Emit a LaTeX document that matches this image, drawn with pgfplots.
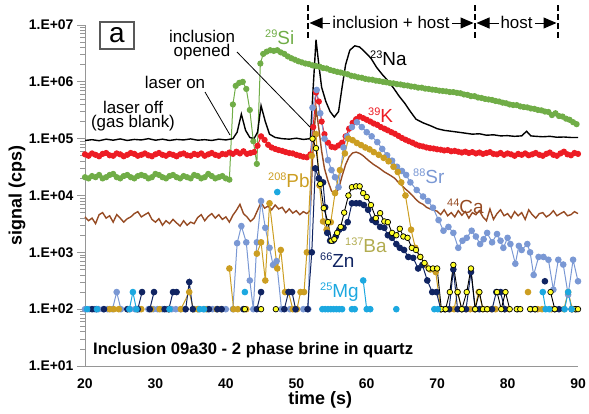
\documentclass[border=0pt]{standalone}
\usepackage{fontspec}
\setmainfont{Liberation Sans}
\usepackage{pgfplots}
\pgfplotsset{compat=1.18}
\usetikzlibrary{arrows.meta}

\definecolor{siGreen}{RGB}{112,173,71}
\definecolor{kRed}{RGB}{237,28,36}
\definecolor{srBlue}{RGB}{122,152,212}
\definecolor{caBrown}{RGB}{150,75,35}
\definecolor{pbGold}{RGB}{204,158,34}
\definecolor{znNavy}{RGB}{16,36,98}
\definecolor{baYellow}{RGB}{255,255,40}
\definecolor{baLabel}{RGB}{178,172,80}
\definecolor{mgCyan}{RGB}{28,168,224}
\definecolor{axisGray}{RGB}{150,150,150}

% isotope label: small mass number, larger element symbol
\newcommand{\iso}[2]{{\fontsize{11}{11}\selectfont\raisebox{6.5bp}{#1}}{\fontsize{19}{19}\selectfont #2}}
\newcommand{\ann}{\fontsize{17}{14}\selectfont}

\begin{document}
\begin{tikzpicture}
\begin{axis}[
  scale only axis, width=493bp, height=341bp,
  at={(0,0)}, anchor=south west,
  xmin=20, xmax=90, ymin=1e1, ymax=1e7, ymode=log,
  clip=false, unbounded coords=jump,
  axis x line*=bottom, axis y line*=left,
  axis line style={axisGray, line width=0.9bp, -},
  xtick={20,30,...,90}, xticklabels={20,30,40,50,60,70,80,90},
  xtick style={draw=none},
  ytick={1e1,1e2,1e3,1e4,1e5,1e6,1e7},
  yticklabels={1.E+01,1.E+02,1.E+03,1.E+04,1.E+05,1.E+06,1.E+07},
  minor ytick={2e1,3e1,4e1,5e1,6e1,7e1,8e1,9e1,2e2,3e2,4e2,5e2,6e2,7e2,8e2,9e2,
    2e3,3e3,4e3,5e3,6e3,7e3,8e3,9e3,2e4,3e4,4e4,5e4,6e4,7e4,8e4,9e4,
    2e5,3e5,4e5,5e5,6e5,7e5,8e5,9e5,2e6,3e6,4e6,5e6,6e6,7e6,8e6,9e6},
  tick align=outside, major tick length=8bp, minor tick length=5bp,
  ytick style={axisGray, line width=0.7bp},
  minor tick style={axisGray, line width=0.5bp},
  ticklabel style={font=\fontsize{14}{14}\selectfont\bfseries},
  xticklabel style={yshift=-1bp},
  xlabel={time (s)}, ylabel={signal (cps)},
  label style={font=\fontsize{18}{18}\selectfont\bfseries},
  xlabel style={at={(axis description cs:0.477,0)}, anchor=center, yshift=-34bp},
  ylabel style={at={(axis description cs:-0.138,0.5)}, anchor=center},
]

% 29Si
\addplot[siGreen, line width=1bp, mark=*, mark size=2.6pt] coordinates {
(20,2.1e4)(20.5,2.0e4)(21,2.2e4)(21.5,2.1e4)(22,2.3e4)(22.5,2.0e4)(23,2.1e4)(23.5,2.3e4)(24,2.4e4)(24.5,2.1e4)
(25,2.0e4)(25.5,2.2e4)(26,2.3e4)(26.5,2.1e4)(27,2.0e4)(27.5,2.2e4)(28,2.3e4)(28.5,2.2e4)(29,2.0e4)(29.5,2.1e4)
(30,2.4e4)(30.5,2.3e4)(31,2.1e4)(31.5,2.0e4)(32,2.2e4)(32.5,2.3e4)(33,2.1e4)(33.5,2.0e4)(34,2.2e4)(34.5,2.1e4)
(35,2.0e4)(35.5,2.3e4)(36,2.2e4)(36.5,2.0e4)(37,2.1e4)(37.5,2.4e4)(38,2.2e4)(38.5,2.0e4)(39,2.1e4)(39.5,2.2e4)
(40,2.0e4)(40.5,1.9e4)
(41,4.0e5)(41.4,8.5e5)(41.9,9.6e5)(42.4,1.0e6)(42.9,7.5e5)(43.4,3.2e5)(43.9,9.0e4)(44.4,3.6e4)
(44.9,2.1e6)(45.3,3.1e6)(45.8,3.4e6)(46.3,3.6e6)(46.8,3.5e6)(47.3,3.6e6)(47.8,3.3e6)(48.3,3.1e6)(48.8,2.8e6)
(49.3,2.6e6)(49.8,2.45e6)(50.3,2.3e6)(50.8,2.2e6)(51.3,2.1e6)(51.8,2.05e6)(52.3,1.95e6)(52.8,1.9e6)(53.3,1.85e6)
(53.8,1.75e6)(54.3,1.72e6)(54.8,1.62e6)(55.3,1.56e6)(55.8,1.5e6)(56.3,1.46e6)(56.8,1.4e6)(57.3,1.36e6)
(57.8,1.28e6)(58.3,1.25e6)(58.8,1.2e6)(59.3,1.18e6)(59.8,1.13e6)(60.3,1.1e6)(60.8,1.09e6)(61.3,1.05e6)
(61.8,1.03e6)(62.3,1.0e6)(62.8,9.8e5)(63.3,9.5e5)(63.8,9.4e5)(64.3,9.1e5)(64.8,9.0e5)(65.3,8.7e5)(65.8,8.6e5)
(66.3,8.3e5)(66.8,8.2e5)(67.3,7.9e5)(67.8,7.9e5)(68.3,7.6e5)(68.8,7.5e5)(69.3,7.3e5)(69.8,7.2e5)(70.3,7.0e5)
(70.8,6.9e5)(71.3,6.8e5)(71.8,6.6e5)(72.3,6.6e5)(72.8,6.4e5)(73.3,6.3e5)(73.8,6.0e5)(74.3,5.9e5)(74.8,5.6e5)
(75.3,5.6e5)(75.8,5.3e5)(76.3,5.2e5)(76.8,5.0e5)(77.3,4.9e5)(77.8,4.8e5)(78.3,4.6e5)(78.8,4.5e5)(79.3,4.3e5)
(79.8,4.2e5)(80.3,4.0e5)(80.8,3.9e5)(81.3,3.9e5)(81.8,3.7e5)(82.3,3.6e5)(82.8,3.55e5)(83.3,3.4e5)(83.8,3.35e5)
(84.3,3.2e5)(84.8,3.15e5)(85.3,3.0e5)(85.8,2.95e5)(86.3,2.6e5)(86.8,2.8e5)(87.3,2.5e5)(87.8,2.45e5)
(88.3,2.25e5)(88.8,2.15e5)(89.3,1.95e5)(89.8,1.8e5)};

% 39K
\addplot[kRed, line width=1bp, mark=*, mark size=2.6pt] coordinates {
(20,5.3e4)(20.5,5.0e4)(21,5.5e4)(21.5,5.2e4)(22,4.9e4)(22.5,5.4e4)(23,5.6e4)(23.5,5.1e4)(24,5.0e4)(24.5,5.5e4)
(25,5.3e4)(25.5,4.9e4)(26,5.2e4)(26.5,5.6e4)(27,5.4e4)(27.5,5.0e4)(28,5.2e4)(28.5,5.5e4)(29,5.1e4)(29.5,4.9e4)
(30,5.3e4)(30.5,5.6e4)(31,5.2e4)(31.5,5.0e4)(32,5.4e4)(32.5,5.2e4)(33,4.9e4)(33.5,5.3e4)(34,5.5e4)(34.5,5.1e4)
(35,5.0e4)(35.5,5.4e4)(36,5.2e4)(36.5,5.5e4)(37,5.0e4)(37.5,5.3e4)(38,5.6e4)(38.5,5.2e4)(39,5.0e4)(39.5,5.4e4)
(40,5.3e4)(40.5,5.7e4)(41,5.4e4)(41.5,5.9e4)(42,5.5e4)(42.5,6.0e4)(43,5.4e4)(43.5,5.6e4)(44,5.8e4)(44.5,7.5e4)
(45,1.1e5)(45.5,9.5e4)(46,7.8e4)(46.5,7.0e4)(47,6.6e4)(47.5,6.3e4)(48,6.1e4)(48.5,5.8e4)(49,5.6e4)(49.5,5.5e4)
(50,5.2e4)(50.5,5.0e4)(51,4.8e4)(51.5,4.7e4)(52,5.3e4)(52.4,1.6e5)(52.8,6.5e5)(53.2,4.5e5)(53.6,2.0e5)
(54,1.2e5)(54.5,8.5e4)(55,7.2e4)(55.5,7.0e4)(56,7.6e4)(56.5,8.5e4)(57,1.1e5)(57.5,1.5e5)(58,1.9e5)(58.5,2.2e5)
(59,2.45e5)(59.5,2.3e5)(60,2.15e5)(60.5,2.0e5)(61,1.85e5)(61.5,1.75e5)(62,1.6e5)(62.5,1.5e5)(63,1.4e5)
(63.5,1.3e5)(64,1.22e5)(64.5,1.12e5)(65,1.03e5)(65.5,9.6e4)(66,9.0e4)(66.5,8.5e4)(67,7.9e4)(67.5,7.5e4)
(68,7.3e4)(68.5,7.0e4)(69,6.8e4)(69.5,6.7e4)(70,6.5e4)(70.5,6.4e4)(71,6.2e4)(71.5,6.3e4)(72,6.0e4)(72.5,6.1e4)
(73,5.9e4)(73.5,5.7e4)(74,5.9e4)(74.5,5.6e4)(75,5.8e4)(75.5,5.5e4)(76,5.7e4)(76.5,5.4e4)(77,5.6e4)(77.5,5.8e4)
(78,5.4e4)(78.5,5.3e4)(79,5.6e4)(79.5,5.2e4)(80,5.5e4)(80.5,5.3e4)(81,5.0e4)(81.5,5.4e4)(82,5.2e4)(82.5,5.5e4)
(83,5.1e4)(83.5,5.3e4)(84,5.6e4)(84.5,5.2e4)(85,5.0e4)(85.5,5.4e4)(86,5.7e4)(86.5,5.2e4)(87,5.0e4)(87.5,5.5e4)
(88,5.9e4)(88.5,5.3e4)(89,5.1e4)(89.5,5.6e4)(90,5.4e4)};

% 23Na
\addplot[black, line width=1.4bp] coordinates {
(20,9.3e4)(21,9.6e4)(22,9.2e4)(23,9.8e4)(24,9.4e4)(25,9.9e4)(26,9.3e4)(27,9.7e4)(28,9.5e4)(29,1.0e5)
(30,9.4e4)(31,9.8e4)(32,9.3e4)(33,9.7e4)(34,9.5e4)(35,9.9e4)(36,9.4e4)(37,9.6e4)(38,9.3e4)(39,9.8e4)
(40,9.5e4)(41,1.0e5)(41.6,1.3e5)(42.2,2.7e5)(42.8,1.4e5)(43.4,1.05e5)(44,1.0e5)(44.5,1.3e5)(45,3.8e5)
(45.6,2.0e5)(46.2,1.2e5)(47,1.05e5)(48,1.0e5)(49,9.8e4)(50,1.02e5)(51,9.7e4)(52,1.0e5)(52.4,8e5)(52.8,5.5e6)
(53.2,2.0e6)(53.6,8e5)(54.2,4.5e5)(54.8,3.0e5)(55.4,2.4e5)(56,3.0e5)(56.5,8e5)(57,2.0e6)(57.6,3.6e6)
(58.3,4.3e6)(59,4.1e6)(59.8,3.3e6)(60.6,2.6e6)(61.4,1.8e6)(62.2,1.35e6)(63,1.05e6)(63.8,7.8e5)(64.6,5.6e5)
(65.4,4.2e5)(66.2,3.0e5)(67,2.2e5)(68,1.9e5)(69,1.7e5)(70,1.5e5)(71,1.4e5)(72,1.35e5)(73,1.3e5)(74,1.25e5)
(75,1.2e5)(76,1.22e5)(77,1.15e5)(78,1.17e5)(79,1.12e5)(80,1.13e5)(81,1.1e5)(82,1.12e5)(82.7,1.35e5)
(83.3,1.12e5)(84,1.1e5)(85,1.08e5)(86,1.1e5)(87,1.06e5)(88,1.07e5)(89,1.05e5)(90,1.05e5)};

% 44Ca
\addplot[caBrown, line width=1.4bp] coordinates {
(20,4.2e3)(20.5,3.6e3)(21,4.0e3)(21.5,3.2e3)(22,4.6e3)(22.5,5.0e3)(23,4.0e3)(23.5,4.4e3)(24,3.4e3)(24.5,4.6e3)
(25,4.0e3)(25.5,3.4e3)(26,3.9e3)(26.5,4.2e3)(27,4.8e3)(27.5,5.2e3)(28,4.2e3)(28.5,4.6e3)(29,5.0e3)(29.5,3.8e3)
(30,3.4e3)(30.5,3.9e3)(31,3.0e3)(31.5,3.6e3)(32,3.2e3)(32.5,3.8e3)(33,3.3e3)(33.5,2.9e3)(34,3.6e3)(34.5,3.0e3)
(35,3.4e3)(35.5,3.2e3)(36,4.1e3)(36.5,4.6e3)(37,3.6e3)(37.5,4.3e3)(38,4.8e3)(38.5,4.0e3)(39,4.6e3)(39.5,3.8e3)
(40,4.2e3)(40.5,3.4e3)(41,4.5e3)(41.5,5.5e3)(42,7.0e3)(42.5,4.8e3)(43,4.2e3)(43.5,3.5e3)(44,4.0e3)(44.5,5.5e3)
(45,7.5e3)(45.5,6.0e3)(46,6.5e3)(46.5,5.6e3)(47,6.8e3)(47.5,5.8e3)(48,6.2e3)(48.5,5.0e3)(49,5.8e3)(49.5,4.9e3)
(50,5.4e3)(50.5,4.6e3)(51,5.2e3)(51.5,4.8e3)(52,5.5e3)(52.4,8e4)(52.8,3.5e5)(53.2,1.5e5)(53.6,6e4)(54,3e4)
(54.5,1.8e4)(55,1.2e4)(55.5,1.05e4)(56,1.3e4)(56.5,2.2e4)(57,3.5e4)(57.5,4.8e4)(58,5.6e4)(58.5,5.8e4)(59,5.5e4)
(59.5,5.0e4)(60,4.4e4)(60.5,3.9e4)(61,3.5e4)(61.5,3.2e4)(62,2.9e4)(62.5,2.6e4)(63,2.4e4)(63.5,2.2e4)(64,2.0e4)
(64.5,1.7e4)(65,1.5e4)(65.5,1.3e4)(66,1.15e4)(66.5,1.0e4)(67,8.5e3)(67.5,7.5e3)(68,7.0e3)(68.5,6.2e3)
(69,5.8e3)(69.5,5.5e3)(70,5.3e3)(70.5,4.6e3)(71,5.6e3)(71.5,4.4e3)(72,5.0e3)(72.5,4.2e3)(73,5.4e3)(73.5,4.5e3)
(74,5.2e3)(74.5,4.0e3)(75,5.0e3)(75.5,4.6e3)(76,5.4e3)(76.5,4.2e3)(77,3.6e3)(77.5,5.8e3)(78,3.8e3)(78.5,4.8e3)
(79,5.6e3)(79.5,4.4e3)(80,4.8e3)(80.5,4.0e3)(81,5.2e3)(81.5,4.4e3)(82,5.0e3)(82.5,3.8e3)(83,5.6e3)(83.5,4.6e3)
(84,4.0e3)(84.5,4.8e3)(85,5.0e3)(85.5,4.2e3)(86,4.6e3)(86.5,5.4e3)(87,4.4e3)(87.5,4.8e3)(88,5.2e3)(88.5,4.4e3)
(89,4.6e3)(89.5,5.2e3)(90,4.8e3)};

% 88Sr
\addplot[srBlue, line width=1bp, mark=*, mark size=2.8pt] coordinates {
(20.0,100)(20.6,100)(21.3,100)(21.9,100)(22.6,100)(23.2,100)(23.9,100)(24.5,200)(25.1,100)(25.6,nan)
(26.4,100)(27.1,100)(27.7,100)(28.3,nan)(29.0,100)(29.7,100)(30.3,100)(31.0,100)(31.6,100)(32.3,100)
(32.9,100)(33.6,100)(34.2,100)(34.7,nan)(35.5,100)(36.1,100)(36.8,100)(37.4,100)(38.1,100)(38.7,100)
(39.4,100)(40.0,100)(40.5,nan)
(41.0,100)(41.6,1.45e3)(42.2,2.9e3)(42.9,1.5e3)(43.4,320)(43.9,100)(44.4,1.5e3)(45.0,8.0e3)(45.6,2.7e3)
(46.2,1.2e3)(46.7,600)(47.2,700)(47.9,100)(48.5,nan)(49.1,100)(49.8,100)(50.4,nan)(51.0,100)(51.7,100)
(52.3,3.5e5)(52.9,7.2e5)(53.4,2.8e5)(54.0,1.0e5)(54.5,4.2e4)(55.0,2.8e4)(55.5,2.1e4)(56.0,1.4e4)(56.7,7.0e4)
(57.2,1.1e5)(57.9,1.6e5)(58.6,1.95e5)(59.3,1.6e5)(60.0,1.3e5)(60.7,1.1e5)(61.5,8.7e4)(62.2,6.6e4)(62.9,5.1e4)
(63.6,4.1e4)(64.3,3.2e4)(65.0,2.7e4)(65.6,2.3e4)(66.2,1.7e4)(67.1,1.25e4)(68.0,9.6e3)(68.7,8.0e3)(69.4,6.1e3)
(70.2,3.7e3)(70.9,2.4e3)(71.6,2.8e3)(72.3,2.2e3)(73.0,1.2e3)(73.6,1.6e3)(74.2,1.8e3)(74.9,2.4e3)(75.5,1.9e3)
(76.1,1.4e3)(76.6,1.7e3)(77.1,2.2e3)(77.8,1.5e3)(78.5,2.1e3)(79.0,1.6e3)(79.4,1.2e3)(80.0,1.8e3)(80.4,1.4e3)
(81.1,630)(81.6,1.3e3)(82.0,1.1e3)(82.8,1.4e3)(83.2,1.0e3)(83.7,400)(84.4,830)(85.1,830)(85.8,740)(86.5,220)
(87.2,740)(87.9,610)(88.6,180)(89.3,740)(90.0,310)};

% 208Pb
\addplot[pbGold, line width=1bp, mark=*, mark size=2.8pt] coordinates {
(23.5,100)(24.1,100)(24.8,100)(25.4,nan)(26.1,100)(26.7,nan)(27.4,100)(28.0,100)(28.6,nan)(29.4,100)(30.0,nan)
(30.6,100)(31.2,nan)(31.9,100)(32.5,nan)(33.6,100)(34.8,200)(35.4,100)(36.0,100)(36.6,nan)(37.2,100)(37.8,nan)
(38.7,100)(39.3,100)(39.9,nan)(40.5,520)(41.1,100)(41.7,100)(42.3,nan)(42.9,100)(43.5,nan)(44.4,950)(45.0,1.5e3)
(45.6,320)(46.2,7.3e3)(47.3,520)(47.8,1.1e3)(48.4,200)(48.9,200)(49.5,100)(50.1,100)(50.6,200)(51.1,200)
(51.5,1.0e3)(52.2,5.0e4)(52.8,1.2e5)(53.3,1.5e4)(53.8,3.5e3)(54.3,2.5e3)(54.9,3.4e3)(55.5,1.1e4)(56.2,2.8e4)
(56.9,5.5e4)(57.4,1.0e5)(58.0,9.4e4)(58.6,8.4e4)(59.2,7.7e4)(59.8,7.0e4)(60.4,6.5e4)(61.0,5.8e4)(61.7,5.2e4)
(62.4,4.6e4)(63.1,4.0e4)(63.8,3.2e4)(64.4,2.6e4)(64.9,1.7e4)(65.5,1.0e4)(66.3,2.5e3)(66.9,1.2e3)(67.6,830)
(68.3,600)(69.0,500)(69.8,450)(70.5,100)(71.1,100)(71.8,100)(72.4,100)(72.9,200)(73.5,100)(74.1,100)(74.7,100)
(75.3,100)(75.9,200)(76.5,100)(77.1,100)(77.7,100)(78.3,100)(78.9,nan)(79.6,100)(80.2,100)(80.8,nan)
(82.9,200)(83.5,nan)(84.3,100)(84.9,100)(85.5,nan)(86.2,100)(86.8,nan)(88.0,100)(88.6,200)(89.2,100)(89.8,nan)};

% 66Zn
\addplot[znNavy, line width=1bp, mark=*, mark size=2.8pt] coordinates {
(21.0,100)(21.6,100)(22.2,nan)(22.7,100)(23.3,nan)(26.0,100)(26.6,nan)(27.5,100)(28.1,200)(28.7,nan)(29.2,100)
(29.8,200)(30.4,nan)(31.3,100)(31.9,100)(32.5,200)(33.0,200)(33.6,nan)(34.3,100)(34.8,300)(35.3,100)(35.9,nan)
(37.6,100)(38.2,nan)(38.8,100)(39.4,100)(40.0,nan)(42.5,100)(43.0,nan)(44.4,100)(45.0,200)(45.6,nan)(48.3,100)
(48.9,200)(49.4,200)(49.9,100)(50.5,nan)(51.6,100)(52.2,1.0e3)(52.7,3.0e4)(53.2,2.0e4)(53.8,1.7e4)(54.1,6.2e3)
(54.4,2.2e3)(54.8,1.6e3)(55.2,1.6e3)(55.6,1.9e3)(56.1,2.5e3)(56.7,2.7e3)(57.3,3.4e3)(57.9,7.3e3)(58.5,7.3e3)
(59.0,7.3e3)(59.6,6.8e3)(60.2,5.6e3)(60.8,3.7e3)(61.3,3.4e3)(61.9,2.8e3)(62.5,2.7e3)(63.0,2.0e3)(63.6,1.8e3)
(64.2,1.4e3)(64.7,1.2e3)(65.3,1.1e3)(65.9,830)(66.6,800)(67.3,520)(67.9,600)(68.6,320)(69.3,200)(69.9,200)
(70.5,100)(71.1,100)(71.7,100)(72.3,500)(72.9,100)(73.5,100)(74.1,100)(74.8,450)(75.4,100)(76.0,100)(76.6,nan)
(77.8,100)(78.4,200)(79.0,200)(79.6,100)(80.2,nan)(81.4,100)(82.0,nan)(83.3,100)(83.9,100)(84.5,nan)(85.3,310)
(85.9,nan)(86.7,100)(87.3,100)(87.9,nan)(89.1,100)(89.7,100)};

% 137Ba
\addplot[black, line width=0.9bp, mark=*, mark size=2.8pt, mark options={fill=baYellow, draw=black, line width=0.7bp}] coordinates {
(42.7,100)(43.2,nan)(45.0,100)(45.5,nan)(47.1,100)(47.6,nan)
(52.3,1.0e5)(52.8,6.8e4)(53.4,1.6e4)(53.9,6.0e3)(54.5,3.4e3)(55.0,1.6e3)(55.4,1.7e3)(55.8,2.2e3)(56.3,2.8e3)
(56.8,5.0e3)(57.4,1.0e4)(57.9,1.4e4)(58.5,1.45e4)(59.0,1.45e4)(59.5,1.1e4)(60.0,9.4e3)(60.6,6.8e3)(61.3,4.0e3)
(61.9,4.9e3)(62.5,3.5e3)(63.0,3.4e3)(63.6,2.2e3)(64.2,2.0e3)(64.7,2.6e3)(65.2,1.9e3)(65.8,1.8e3)(66.4,1.2e3)
(67.0,1.1e3)(67.6,830)(68.2,650)(68.8,520)(69.4,520)(70.0,520)(70.6,100)(71.2,100)(71.8,200)(72.3,600)
(72.9,200)(73.5,100)(74.2,200)(74.8,520)(75.4,100)(76.0,200)(76.5,100)(77.1,100)(77.7,nan)(78.5,200)(79.1,100)
(79.7,200)(80.3,100)(80.9,nan)(81.3,100)(81.8,100)(82.4,nan)(83.2,100)(83.9,100)(84.5,nan)(86.1,200)(86.7,100)
(87.3,nan)(89.6,100)(90.0,100)};

% 25Mg
\addplot[mgCyan, line width=1bp, mark=*, mark size=2.8pt] coordinates {
(20.3,100)(20.9,nan)(21.7,100)(22.3,nan)(26.3,100)(26.8,200)(27.3,100)(27.9,nan)(32.0,100)(32.6,nan)
(36.3,100)(36.9,100)(37.5,nan)(42.7,200)(43.2,nan)(47.3,1.15e4)(47.8,nan)
(53.7,100)(54.1,100)(54.5,100)(54.9,100)(55.3,100)(55.7,100)(56.1,100)(56.5,100)(57.0,nan)(57.9,100)(58.3,100)
(58.8,nan)(59.5,320)(60.0,100)(60.5,100)(61.0,nan)(64.2,100)(64.7,nan)(69.6,100)(70.1,100)(70.6,nan)
(85.0,200)(85.4,100)(85.9,100)(86.3,nan)(88.1,100)(88.6,200)(89.1,100)(89.6,nan)};

\end{axis}

% annotations, in picture units measured from the top-left corner
\begin{scope}[x=1bp, y=-1bp, shift={(-85bp,366bp)}]
  % panel letter
  \draw[black!65, line width=1.1bp] (100,22) rectangle (134,49);
  \node[inner sep=0] at (117,35.5) {\fontsize{28}{28}\selectfont a};

  % callouts
  \node[anchor=north, inner sep=0, align=center, font=\ann] at (133,101) {laser off\\(gas blank)};
  \node[anchor=base, inner sep=0] at (175,88) {\ann laser on};
  \node[anchor=north, inner sep=0, align=center, font=\ann] at (202,30) {inclusion\\opened};
  \draw[black, line width=0.8bp] (205,92) -- (230,135);
  \draw[black, line width=0.8bp] (237,52) -- (310,127);

  % signal intervals
  \foreach \xx in {308,475,558}
    \draw[black, line width=2.4bp, dash pattern=on 6bp off 3bp] (\xx,5) -- (\xx,38);
  \draw[black, line width=1bp, {Triangle[length=13bp,width=11bp]}-{Triangle[length=13bp,width=11bp]}] (309.5,23) -- (473.5,23);
  \draw[black, line width=1bp, {Triangle[length=13bp,width=11bp]}-{Triangle[length=13bp,width=11bp]}] (476.5,23) -- (556.5,23);
  \node[anchor=base, fill=white, inner xsep=2bp, inner ysep=1bp] at (391,28) {\ann inclusion + host};
  \node[anchor=base, fill=white, inner xsep=2bp, inner ysep=1bp] at (516.5,28) {\ann host};

  % sample description
  \node[anchor=base west, inner sep=0] at (93,354) {\fontsize{16.7}{16.7}\selectfont\bfseries Inclusion 09a30 - 2 phase brine in quartz};

  % isotope labels
  \node[anchor=base west, inner sep=0, text=siGreen] at (265,44) {\iso{29}{Si}};
  \node[anchor=base west, inner sep=0, text=black] at (370,65) {\iso{23}{Na}};
  \node[anchor=base west, inner sep=0, text=kRed] at (368,122) {\iso{39}{K}};
  \node[anchor=base west, inner sep=0, text=srBlue] at (413,183) {\iso{88}{Sr}};
  \node[anchor=base west, inner sep=0, text=caBrown] at (447,213) {\iso{44}{Ca}};
  \node[anchor=base west, inner sep=0, text=pbGold] at (268,187) {\iso{208}{Pb}};
  \node[anchor=base west, inner sep=0, text=baLabel] at (345,252) {\iso{137}{Ba}};
  \node[anchor=base west, inner sep=0, text=znNavy] at (320,267) {\iso{66}{Zn}};
  \node[anchor=base west, inner sep=0, text=mgCyan] at (320,297) {\iso{25}{Mg}};

  \pgfresetboundingbox
  \path[use as bounding box] (0,0) rectangle (589,413);
\end{scope}
\end{tikzpicture}
\end{document}
